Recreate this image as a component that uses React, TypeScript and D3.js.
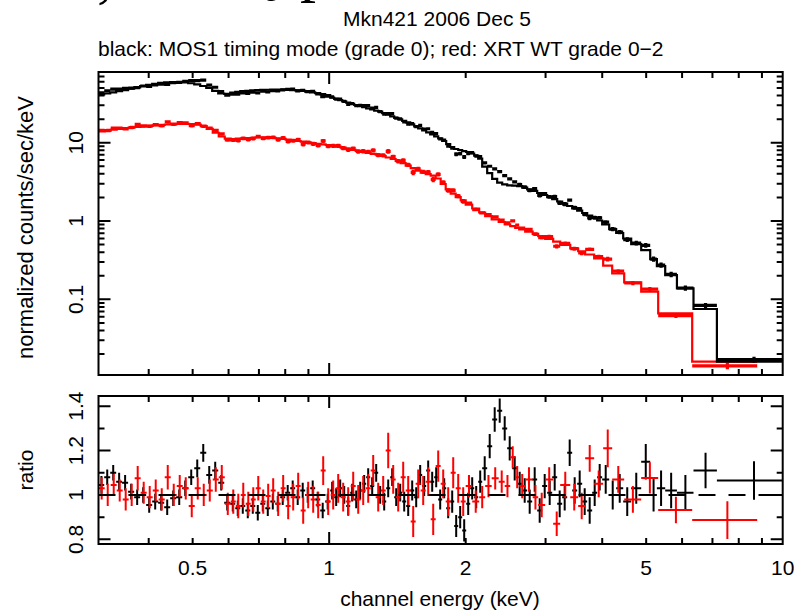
import React from "react";
import * as d3 from "d3";

// ---------------- DATA ----------------
// black: XMM MOS1 timing mode — bin edges (keV), model (counts/s/keV), data/model ratio, ratio error
const mos1Edges = [
  0.3102, 0.3191, 0.3290, 0.3391, 0.3494, 0.3603, 0.3715, 0.3830, 0.3949, 0.4071, 0.4197, 0.4327, 0.4461, 0.4599, 0.4742, 0.4888, 0.5040, 0.5196, 0.5357, 0.5521, 0.5693, 0.5869, 0.6051,
  0.6207, 0.6367, 0.6531, 0.6699, 0.6871, 0.7048, 0.7229, 0.7415, 0.7606, 0.7798, 0.7998, 0.8204, 0.8414, 0.8632, 0.8853, 0.9081, 0.9314, 0.9554, 0.9799, 1.0051,
  1.0257, 1.0468, 1.0683, 1.0902, 1.1125, 1.1354, 1.1588, 1.1824, 1.2066, 1.2315, 1.2567, 1.2825, 1.3088, 1.3357, 1.3632, 1.3911, 1.4196, 1.4487, 1.4785, 1.5088,
  1.5397, 1.5713, 1.6035, 1.6364, 1.6700, 1.7043, 1.7392, 1.7749, 1.8113, 1.8485, 1.8864, 1.9251, 1.9646, 2.0050, 2.0461, 2.0881, 2.1310, 2.1747,
  2.2305, 2.2878, 2.3466, 2.4070, 2.4689, 2.5323, 2.5974, 2.6642, 2.7326, 2.8029, 2.8749, 2.9489, 3.0247, 3.1024, 3.1822, 3.2639, 3.3479, 3.4339, 3.5222, 3.6127, 3.7057, 3.8008, 3.8986, 3.9988,
  4.1439, 4.2937, 4.4494, 4.6337, 4.8753, 5.1035,
  5.279, 5.507, 5.845, 6.358, 7.160, 10.13,
];
const mos1Model = [
  41.5, 42.5, 44, 45.5, 47, 49, 51, 53, 55, 56.5, 58, 59, 59.5, 59.5, 59, 57.5, 55.5, 53, 50, 46, 42.5, 42,
  43.5, 44.5, 45.5, 46, 46.5, 47, 47.3, 47.5, 47.7, 47.8, 47.8, 47.5, 47, 46.5, 45.8, 45, 44, 43, 41.8, 40.5,
  37.67, 36.37, 35.0, 33.79, 32.52, 31.3, 30.3, 29.34, 28.4, 27.5, 26.55, 25.7, 24.88, 23.81, 22.78, 21.74, 20.8, 19.9, 18.98, 18.16,
  17.18, 16.2, 15.27, 14.4, 13.58, 12.8, 12.07, 11.38, 10.51, 9.62, 8.81, 8.31, 8.07, 7.83, 7.61, 7.28, 6.86, 6.28,
  4.95, 4.1, 3.45, 3.1, 2.93, 2.86, 2.83, 2.783, 2.663, 2.541, 2.423, 2.279, 2.148, 2.014, 1.898, 1.774, 1.663, 1.554, 1.453, 1.358, 1.265, 1.175, 1.092, 1.015,
  0.902, 0.79, 0.703, 0.598, 0.508, 0.426,
  0.327, 0.266, 0.204, 0.138, 0.0752, 0.016,
];
const mos1Ratio = [
  1.045, 1.08, 1.1, 1.06, 1.055, 1.015, 0.99, 1.0, 0.955, 0.97, 0.965, 0.945, 0.985, 0.99, 1.03, 1.08, 1.12, 1.19, 1.09, 1.11, 1.055, 0.965,
  0.96, 0.94, 0.95, 0.93, 0.95, 0.92, 0.96, 0.94, 0.97, 0.96, 0.99, 1.01, 1.03, 0.99, 1.02, 1.0, 1.03, 0.98, 0.93, 0.97,
  1.02, 0.99, 1.03, 1.0, 0.95, 1.01, 0.98, 1.02, 1.05, 1.08, 1.04, 1.1, 1.0, 0.97, 1.03, 1.08, 0.99, 1.01, 0.97, 0.95,
  1.02, 0.99, 1.09, 1.04, 1.11, 1.06, 1.08, 0.98, 1.03, 0.94, 0.97, 0.86, 0.9, 0.84, 0.96, 1.03, 0.99, 1.06,
  1.12, 1.22, 1.34, 1.38, 1.3, 1.21, 1.12, 1.05, 1.02, 0.97, 1.07, 0.93, 1.04, 1.01, 1.08, 0.96, 0.99, 1.19, 1.02, 1.05, 0.97, 0.93, 1.01, 1.08,
  1.07, 1.0, 1.03, 0.97, 1.03, 1.15,
  1.0, 1.03, 1.02, 1.01, 1.11, 1.065,
];
const mos1RatioErr = [
  0.04, 0.035, 0.035, 0.04, 0.035, 0.035, 0.035, 0.035, 0.035, 0.035, 0.035, 0.035, 0.035, 0.035, 0.035, 0.035, 0.04, 0.04, 0.04, 0.04, 0.035, 0.035,
  0.035, 0.035, 0.035, 0.035, 0.035, 0.035, 0.035, 0.035, 0.035, 0.035, 0.035, 0.035, 0.035, 0.035, 0.035, 0.035, 0.035, 0.035, 0.035, 0.035,
  0.04, 0.04, 0.04, 0.04, 0.04, 0.04, 0.04, 0.04, 0.04, 0.04, 0.04, 0.04, 0.04, 0.04, 0.04, 0.04, 0.04, 0.04, 0.045, 0.045,
  0.045, 0.045, 0.045, 0.045, 0.045, 0.045, 0.045, 0.045, 0.045, 0.045, 0.05, 0.05, 0.05, 0.05, 0.05, 0.05, 0.05, 0.05,
  0.055, 0.055, 0.055, 0.055, 0.055, 0.055, 0.055, 0.055, 0.055, 0.055, 0.055, 0.055, 0.055, 0.055, 0.06, 0.06, 0.06, 0.06, 0.06, 0.06, 0.06, 0.06, 0.06, 0.06,
  0.065, 0.065, 0.065, 0.065, 0.07, 0.08,
  0.075, 0.08, 0.08, 0.08, 0.08, 0.087,
];

// red: Swift XRT WT grade 0-2
const xrtEdges = [
  0.3102, 0.3199, 0.3298, 0.3400, 0.3505, 0.3613, 0.3725, 0.3840, 0.3959, 0.4082, 0.4208, 0.4339, 0.4473, 0.4611, 0.4754, 0.4901, 0.5053, 0.5209, 0.5370, 0.5537, 0.5708, 0.5885, 0.6067,
  0.6223, 0.6383, 0.6547, 0.6716, 0.6888, 0.7065, 0.7244, 0.7430, 0.7621, 0.7817, 0.8018, 0.8224, 0.8436, 0.8653, 0.8875, 0.9103, 0.9338, 0.9578, 0.9824, 1.0077,
  1.0336, 1.0602, 1.0874, 1.1154, 1.1441, 1.1735, 1.2037, 1.2346, 1.2664, 1.2989, 1.3323, 1.3666, 1.4017, 1.4377, 1.4747, 1.5126, 1.5515, 1.5914, 1.6324, 1.6743,
  1.7174, 1.7615, 1.8069, 1.8533, 1.9010, 1.9499, 1.9999,
  2.067, 2.1417, 2.208, 2.282, 2.3646, 2.4378, 2.5069, 2.5712, 2.624, 2.7053, 2.81, 2.8896, 2.9942, 3.1183, 3.2311, 3.4005, 3.54, 3.668, 3.8396, 4.0192,
  4.2074, 4.472, 4.8753, 5.3142, 6.316, 8.7856,
];
const xrtModel = [
  13.98, 14.31, 14.7, 15.05, 15.37, 15.64, 15.92, 16.2, 16.44, 16.69, 16.88, 17.08, 17.23, 17.33, 17.38, 17.33, 17.03, 16.24, 15.05, 13.4, 12.0, 11.3,
  11.15, 11.25, 11.38, 11.48, 11.58, 11.69, 11.72, 11.65, 11.51, 11.38, 11.18, 10.96, 10.73, 10.51, 10.3, 10.09, 9.88, 9.68, 9.51, 9.35,
  9.13, 8.89, 8.63, 8.38, 8.12, 7.88, 7.65, 7.43, 7.22, 7.03, 6.77, 6.47, 6.19, 5.87, 5.5, 5.11, 4.75, 4.41, 4.16, 3.98,
  3.81, 3.49, 2.97, 2.53, 2.24, 2.02, 1.84,
  1.624, 1.444, 1.284, 1.158, 1.051, 0.971, 0.908, 0.858, 0.819, 0.779, 0.73, 0.686, 0.643, 0.592, 0.547, 0.497, 0.448, 0.411, 0.3735, 0.334,
  0.27, 0.2149, 0.1649, 0.1251, 0.0663, 0.01596,
];
const xrtRatio = [
  1.03, 1.0, 1.045, 1.02, 0.98, 1.0, 1.075, 1.01, 0.99, 1.02, 0.98, 1.08, 1.0, 1.04, 1.03, 0.95, 1.03, 1.0, 1.02, 1.07, 1.08, 0.96,
  0.97, 0.95, 1.0, 0.96, 0.98, 1.03, 0.97, 0.995, 1.02, 0.96, 1.03, 0.95, 0.99, 1.04, 0.93, 1.0, 0.98, 0.955, 1.11, 0.97,
  1.0, 1.03, 0.99, 0.97, 1.04, 0.98, 1.02, 1.03, 1.11, 0.99, 1.02, 1.2, 1.07, 0.99, 1.08, 1.02, 0.88, 1.05, 1.02, 1.06,
  0.89, 1.13, 1.05, 0.97, 1.1, 1.03, 0.97,
  1.04, 0.97, 0.99, 1.04, 1.075, 1.06, 1.04, 1.17, 1.08, 1.04, 1.07, 0.99, 0.955, 1.07, 0.87, 1.045, 0.99, 0.95, 1.165, 1.05,
  1.21, 1.07, 0.98, 1.077, 0.932, 0.887,
];
const xrtRatioErr = [
  0.05, 0.05, 0.05, 0.05, 0.05, 0.05, 0.055, 0.05, 0.05, 0.05, 0.05, 0.055, 0.05, 0.05, 0.05, 0.05, 0.05, 0.05, 0.05, 0.055, 0.055, 0.05,
  0.055, 0.055, 0.055, 0.055, 0.055, 0.055, 0.055, 0.055, 0.055, 0.055, 0.06, 0.06, 0.06, 0.06, 0.06, 0.06, 0.06, 0.06, 0.065, 0.06,
  0.065, 0.065, 0.065, 0.065, 0.065, 0.065, 0.065, 0.065, 0.07, 0.065, 0.065, 0.08, 0.065, 0.065, 0.07, 0.065, 0.07, 0.065, 0.065, 0.065,
  0.07, 0.07, 0.065, 0.065, 0.07, 0.065, 0.065,
  0.05, 0.05, 0.05, 0.05, 0.05, 0.05, 0.05, 0.05, 0.05, 0.055, 0.055, 0.055, 0.055, 0.055, 0.055, 0.06, 0.06, 0.06, 0.06, 0.06,
  0.085, 0.06, 0.06, 0.07, 0.06, 0.085,
];

const xTickLabels = [0.5, 1, 2, 5, 10];
const fluxTickLabels = [0.1, 1, 10];
const ratioTickLabels = [0.8, 1, 1.2, 1.4];
const ratioMinorTicks = [0.9, 1.1, 1.3];

// ---------------- CHART ----------------
type Bin = { lo: number; hi: number; mid: number; model: number; ratio: number; err: number };

function makeBins(edges: number[], model: number[], ratio: number[], err: number[]): Bin[] {
  return model.map((m, i) => ({
    lo: edges[i],
    hi: edges[i + 1],
    mid: (edges[i] + edges[i + 1]) / 2,
    model: m,
    ratio: ratio[i],
    err: err[i],
  }));
}

const FONT = "'Liberation Sans', Helvetica, Arial, sans-serif";

export default function App() {
  const W = 794;
  const H = 613;
  const left = 98.5;
  const right = 782.7;
  const topY0 = 72;
  const topY1 = 375;
  const botY0 = 396;
  const botY1 = 544;

  const x = d3.scaleLog().domain([0.31, 10]).range([left, right]);
  const yFlux = d3.scaleLog().domain([0.0108, 80]).range([topY1, topY0]);
  const yRatio = d3.scaleLinear().domain([0.779, 1.446]).range([botY1, botY0]);

  const black = makeBins(mos1Edges, mos1Model, mos1Ratio, mos1RatioErr);
  const red = makeBins(xrtEdges, xrtModel, xrtRatio, xrtRatioErr);

  const fluxCrosses = (bins: Bin[]) =>
    bins
      .map((b) => {
        const d = b.model * b.ratio;
        const e = b.model * b.err;
        const yy = yFlux(d);
        return `M${x(b.lo)},${yy}H${x(b.hi)}M${x(b.mid)},${yFlux(d + e)}V${yFlux(Math.max(d - e, 1e-4))}`;
      })
      .join("");

  const ratioCrosses = (bins: Bin[]) =>
    bins
      .map((b) => {
        const yy = yRatio(b.ratio);
        return `M${x(b.lo)},${yy}H${x(b.hi)}M${x(b.mid)},${yRatio(b.ratio + b.err)}V${yRatio(b.ratio - b.err)}`;
      })
      .join("");

  const stepLine = d3
    .line<[number, number]>()
    .x((d) => x(d[0]))
    .y((d) => yFlux(d[1]))
    .curve(d3.curveStepAfter);

  const modelPath = (bins: Bin[]) => {
    const pts: [number, number][] = bins.map((b) => [b.lo, b.model]);
    const last = bins[bins.length - 1];
    pts.push([last.hi, last.model]);
    return stepLine(pts) || "";
  };

  // ticks via scales
  const isDecade = (t: number) => Math.abs(Math.log10(t) - Math.round(Math.log10(t))) < 1e-9;
  const xAll = x.ticks().filter((t) => t > 0.31 && t < 10);
  const xMajor = xAll.filter(isDecade);
  const xMinor = xAll.filter((t) => !isDecade(t));
  const yAll = yFlux.ticks().filter((t) => t > 0.0108 && t < 80);
  const yMajor = yAll.filter(isDecade);
  const yMinor = yAll.filter((t) => !isDecade(t));

  const MAJ = 12;
  const MIN = 6;

  const xTickPath = (y0: number, y1: number) =>
    [
      ...xMajor.map((t) => `M${x(t)},${y1}v${-MAJ}M${x(t)},${y0}v${MAJ}`),
      ...xMinor.map((t) => `M${x(t)},${y1}v${-MIN}M${x(t)},${y0}v${MIN}`),
    ].join("");

  const fluxYTicks = [
    ...yMajor.map((t) => `M${left},${yFlux(t)}h${MAJ}M${right},${yFlux(t)}h${-MAJ}`),
    ...yMinor.map((t) => `M${left},${yFlux(t)}h${MIN}M${right},${yFlux(t)}h${-MIN}`),
  ].join("");

  const ratioYTicks = [
    ...ratioTickLabels.map((t) => `M${left},${yRatio(t)}h${MAJ}M${right},${yRatio(t)}h${-MAJ}`),
    ...ratioMinorTicks.map((t) => `M${left},${yRatio(t)}h${MIN}M${right},${yRatio(t)}h${-MIN}`),
  ].join("");

  const RED = "#ff0000";

  return (
    <svg
      width={W}
      height={H}
      viewBox={`0 0 ${W} ${H}`}
      style={{ position: "absolute", left: 0, top: 0, background: "#fff" }}
    >
      <defs>
        <clipPath id="clipTop">
          <rect x={left} y={topY0} width={right - left} height={topY1 - topY0} />
        </clipPath>
        <clipPath id="clipBot">
          <rect x={left} y={botY0} width={right - left} height={botY1 - botY0} />
        </clipPath>
      </defs>
      <rect x={0} y={0} width={W} height={H} fill="#fff" />

      {/* descenders of the page text above the figure (cut by the image edge, as in the source) */}
      <g fontFamily="'Liberation Serif', 'DejaVu Serif', serif" fontSize={64} fill="#000">
        <text x={97} y={-4}>,</text>
        <text x={266} y={-13}>y</text>
        <text x={300} y={-11}>p</text>
      </g>

      {/* titles */}
      <g fontFamily={FONT} fontSize={21} fill="#000">
        <text x={437} y={26} textAnchor="middle">Mkn421 2006 Dec 5</text>
        <text x={98} y={56}>black: MOS1 timing mode (grade 0); red: XRT WT grade 0−2</text>
      </g>

      {/* top panel data */}
      <g clipPath="url(#clipTop)" fill="none" strokeLinecap="butt">
        <path d={fluxCrosses(red)} stroke={RED} strokeWidth={3.2} />
        <path d={modelPath(red)} stroke={RED} strokeWidth={2.2} />
        <path d={fluxCrosses(black)} stroke="#000" strokeWidth={3.2} />
        <path d={modelPath(black)} stroke="#000" strokeWidth={2.2} />
      </g>

      {/* bottom panel data */}
      <g clipPath="url(#clipBot)" fill="none">
        <path d={ratioCrosses(black)} stroke="#000" strokeWidth={2} />
        <path d={ratioCrosses(red)} stroke={RED} strokeWidth={2} />
        <line
          x1={left}
          x2={right}
          y1={yRatio(1)}
          y2={yRatio(1)}
          stroke="#000"
          strokeWidth={2}
          strokeDasharray="17 13"
        />
      </g>

      {/* frames and ticks */}
      <g fill="none" stroke="#000" strokeWidth={2}>
        <rect x={left} y={topY0} width={right - left} height={topY1 - topY0} />
        <rect x={left} y={botY0} width={right - left} height={botY1 - botY0} />
        <path d={xTickPath(topY0, topY1)} />
        <path d={xTickPath(botY0, botY1)} />
        <path d={fluxYTicks} />
        <path d={ratioYTicks} />
      </g>

      {/* tick labels */}
      <g fontFamily={FONT} fontSize={21} fill="#000">
        {fluxTickLabels.map((t) => (
          <text key={`f${t}`} transform={`translate(83,${yFlux(t)}) rotate(-90)`} textAnchor="middle">
            {String(t)}
          </text>
        ))}
        {ratioTickLabels.map((t) => (
          <text key={`r${t}`} transform={`translate(83,${yRatio(t)}) rotate(-90)`} textAnchor="middle">
            {String(t)}
          </text>
        ))}
        {xTickLabels.map((t) => (
          <text key={`x${t}`} x={x(t)} y={575} textAnchor="middle">
            {String(t)}
          </text>
        ))}
        <text transform={`translate(33,${(topY0 + topY1) / 2 + 4}) rotate(-90)`} textAnchor="middle" fontSize={22}>
          normalized counts/sec/keV
        </text>
        <text transform={`translate(33,${(botY0 + botY1) / 2}) rotate(-90)`} textAnchor="middle">
          ratio
        </text>
        <text x={440} y={606} textAnchor="middle">channel energy (keV)</text>
      </g>
    </svg>
  );
}
